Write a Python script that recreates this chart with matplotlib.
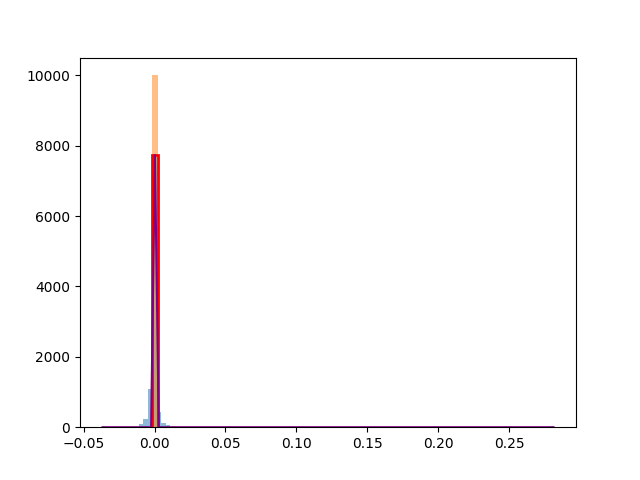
import matplotlib
matplotlib.use("Agg")
import matplotlib.pyplot as plt

# Blue histogram (nonzero bins around zero)
blue_edges = [-0.0112, -0.0080, -0.0048, -0.0016, 0.0015, 0.0047, 0.0079, 0.0111]
blue_counts = [85, 230, 1080, 7730, 435, 115, 55]

# Orange histogram (single tall bin)
orange_edges = [-0.0019, 0.0022]
orange_counts = [10000]

# Red step outline
red_edges = [-0.0015, 0.0022]
red_counts = [7730]

# Purple line
purple_x = [-0.0366, -0.0024, 0.0003, 0.0030, 0.281]
purple_y = [0, 0, 7730, 0, 0]

fig, ax = plt.subplots(figsize=(6.4, 4.8), dpi=100)
ax.hist(blue_edges[:-1], bins=blue_edges, weights=blue_counts, alpha=0.5)
ax.hist(orange_edges[:-1], bins=orange_edges, weights=orange_counts, alpha=0.5)
ax.hist(red_edges[:-1], bins=red_edges, weights=red_counts, histtype='step', color='red', linewidth=2)
ax.plot(purple_x, purple_y, color='purple', linewidth=1.5)

fig.savefig("out.png")
